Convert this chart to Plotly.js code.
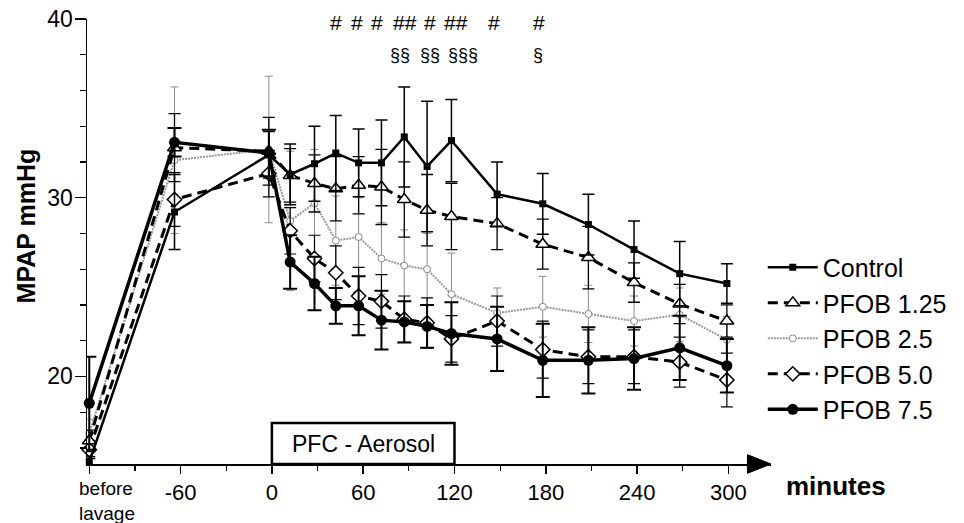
<!DOCTYPE html>
<html>
<head>
<meta charset="utf-8">
<script src="https://cdn.plot.ly/plotly-3.0.1.min.js"></script>
<style>html,body{margin:0;padding:0;background:#fff;}#chart{width:964px;height:523px;}</style>
</head>
<body>
<div id="chart"></div>
<script>
// time in minutes (-120 = "before lavage")
var minutes = [-120, -64, -2, 12, 28, 42, 57, 72, 87, 102, 118, 148, 178, 208, 238, 268, 299];

var controlMean = [15.2, 29.2, 32.4, 31.3, 31.9, 32.5, 31.95, 31.95, 33.4, 31.75, 33.2, 30.2, 29.66, 28.5, 27.1, 25.75, 25.2];
var controlErr  = [0.3, 2.1, 1.3, 1.7, 2.1, 2.1, 1.9, 2.4, 2.8, 3.65, 2.3, 1.8, 1.7, 1.7, 1.6, 1.8, 1.1];

var pfob125Mean = [16.4, 32.8, 32.6, 31.25, 30.8, 30.5, 30.7, 30.6, 29.9, 29.3, 28.95, 28.55, 27.4, 26.65, 25.25, 24.05, 23.1];
var pfob125Err  = [0.6, 1.9, 1.9, 1.5, 1.6, 1.8, 1.6, 2.1, 2.1, 2.0, 1.85, 1.45, 1.4, 1.75, 1.1, 1.1, 0.9];

var pfob25Mean = [16.8, 32.1, 32.7, 28.7, 29.7, 27.6, 27.8, 26.6, 26.2, 26.0, 24.6, 23.55, 23.9, 23.5, 23.1, 23.45, 22.05];
var pfob25Err  = [0.8, 4.1, 4.1, 3.9, 3.0, 2.5, 2.2, 2.0, 2.0, 2.0, 2.3, 1.4, 1.7, 1.6, 1.4, 1.5, 1.3];

var pfob50Mean = [15.9, 29.9, 31.35, 28.15, 26.6, 25.8, 24.5, 24.2, 23.2, 23.0, 22.1, 23.1, 21.5, 21.1, 21.1, 20.8, 19.8];
var pfob50Err  = [0.5, 1.5, 1.3, 1.3, 1.3, 1.5, 1.6, 1.5, 1.3, 1.4, 1.3, 1.4, 1.6, 1.5, 1.5, 1.4, 1.5];

var pfob75Mean = [18.5, 33.1, 32.5, 26.4, 25.2, 23.95, 23.95, 23.15, 23.05, 22.8, 22.4, 22.1, 20.9, 20.9, 21.0, 21.6, 20.6];
var pfob75Err  = [2.6, 0.8, 1.3, 1.5, 1.5, 1.0, 1.65, 1.65, 1.15, 1.2, 1.75, 1.8, 2.05, 1.85, 1.75, 1.8, 1.5];

var seriesNames = ["Control", "PFOB 1.25", "PFOB 2.5", "PFOB 5.0", "PFOB 7.5"];

var xTickVals = [-120, -60, 0, 60, 120, 180, 240, 300];
var xTickText = ["", "-60", "0", "60", "120", "180", "240", "300"];
var xMinorTicks = [-90, -30, 30, 90, 150, 210, 270];
var yTickVals = [20, 30, 40];

var hashTimes  = [42, 56, 69, 87.5, 103.8, 121.2, 146.1, 175.4];
var hashLabels = ["#", "#", "#", "##", "#", "##", "#", "#"];
var sectTimes  = [84.3, 103.8, 125.5, 174.7];
var sectLabels = ["§§", "§§", "§§§", "§"];

var FONT = "Liberation Sans, Arial, Helvetica, sans-serif";

function trace(name, y, err, rank, line, marker, ebar) {
  return {
    type: "scatter", mode: "lines+markers", name: name, x: minutes, y: y,
    legendrank: rank, line: line, marker: marker, cliponaxis: false,
    error_y: Object.assign({type: "data", array: err, visible: true}, ebar)
  };
}

var data = [
  trace(seriesNames[2], pfob25Mean, pfob25Err, 3,
    {color: "#999999", width: 2, dash: "2px,1px"},
    {symbol: "circle", size: 7, color: "white", line: {color: "#888888", width: 1}},
    {color: "#8a8a8a", thickness: 1, width: 4}),
  trace(seriesNames[3], pfob50Mean, pfob50Err, 4,
    {color: "black", width: 3, dash: "10px,6px"},
    {symbol: "diamond", size: 11, color: "white", line: {color: "black", width: 1.5}},
    {color: "black", thickness: 1.2, width: 6}),
  trace(seriesNames[1], pfob125Mean, pfob125Err, 2,
    {color: "black", width: 3, dash: "10px,6px"},
    {symbol: "triangle-up", size: 12, color: "white", line: {color: "black", width: 1.5}},
    {color: "black", thickness: 1.3, width: 6}),
  trace(seriesNames[4], pfob75Mean, pfob75Err, 5,
    {color: "black", width: 3.5},
    {symbol: "circle", size: 11, color: "black"},
    {color: "black", thickness: 2, width: 7}),
  trace(seriesNames[0], controlMean, controlErr, 1,
    {color: "black", width: 2.5},
    {symbol: "square", size: 7, color: "black"},
    {color: "black", thickness: 1.5, width: 6})
];

var annotations = [];
hashTimes.forEach(function (t, i) {
  annotations.push({x: t, y: 39.82, xref: "x", yref: "y", text: hashLabels[i], showarrow: false,
    xanchor: "center", yanchor: "middle", font: {family: FONT, size: 21, color: "black"}});
});
sectTimes.forEach(function (t, i) {
  annotations.push({x: t, y: 38.0, xref: "x", yref: "y", text: sectLabels[i], showarrow: false,
    xanchor: "center", yanchor: "middle", font: {family: FONT, size: 18, color: "black"}});
});
annotations.push({x: 60, y: 0.046, xref: "x", yref: "paper", text: "PFC - Aerosol", showarrow: false,
  xanchor: "center", yanchor: "middle", font: {family: FONT, size: 23, color: "black"}});
annotations.push({x: -0.0145, y: -0.083, xref: "paper", yref: "paper", xanchor: "left", yanchor: "middle", align: "left",
  text: "before<br>lavage", showarrow: false, font: {family: FONT, size: 19, color: "black"}});
annotations.push({x: 1.0948, y: -0.05, xref: "paper", yref: "paper", xanchor: "center", yanchor: "middle",
  text: "<b>minutes</b>", showarrow: false, font: {family: FONT, size: 26, color: "black"}});
annotations.push({x: -0.0897, y: 0.5354, xref: "paper", yref: "paper", xanchor: "center", yanchor: "middle",
  text: "<b>MPAP mmHg</b>", textangle: -90, showarrow: false, font: {family: FONT, size: 25, color: "black"}});

var layout = {
  width: 964, height: 523,
  margin: {l: 87, r: 186, t: 19, b: 59, pad: 0},
  paper_bgcolor: "white", plot_bgcolor: "white",
  font: {family: FONT, color: "black"},
  showlegend: true,
  legend: {x: 0.988, xanchor: "left", y: 0.493, yanchor: "top", bgcolor: "rgba(0,0,0,0)",
    font: {family: FONT, size: 25, color: "black"}, itemwidth: 50, tracegroupgap: 0},
  xaxis: {
    range: [-121.5, 328], showline: true, linecolor: "black", linewidth: 2,
    showgrid: false, zeroline: false, ticks: "outside", ticklen: 8, tickwidth: 1.5, tickcolor: "black",
    tickmode: "array", tickvals: xTickVals, ticktext: xTickText, ticklabelstandoff: 0,
    tickfont: {family: FONT, size: 22, color: "black"},
    minor: {tickmode: "array", tickvals: xMinorTicks, ticks: "outside", ticklen: 5, tickwidth: 1.2, tickcolor: "black"}
  },
  yaxis: {
    range: [15.1, 40], showline: true, linecolor: "black", linewidth: 1.5,
    showgrid: false, zeroline: false, ticks: "outside", ticklen: 11, tickwidth: 1.5, tickcolor: "black",
    tickmode: "array", tickvals: yTickVals, ticklabelstandoff: -3,
    tickfont: {family: FONT, size: 23, color: "black"},
    minor: {dtick: 2, tick0: 0, ticks: "outside", ticklen: 6, tickwidth: 1.2, tickcolor: "black"}
  },
  shapes: [
    {type: "rect", xref: "x", yref: "paper", x0: 0, x1: 120, y0: 0, y1: 0.092,
      line: {color: "black", width: 2.5}, fillcolor: "white", layer: "below"},
    {type: "path", xref: "x", yref: "paper", path: "M312.5,0.021 L328,0 L312.5,-0.021 Z",
      fillcolor: "black", line: {color: "black", width: 1}, layer: "above"}
  ],
  annotations: annotations
};

Plotly.newPlot("chart", data, layout, {displayModeBar: false, staticPlot: true});
</script>
</body>
</html>
